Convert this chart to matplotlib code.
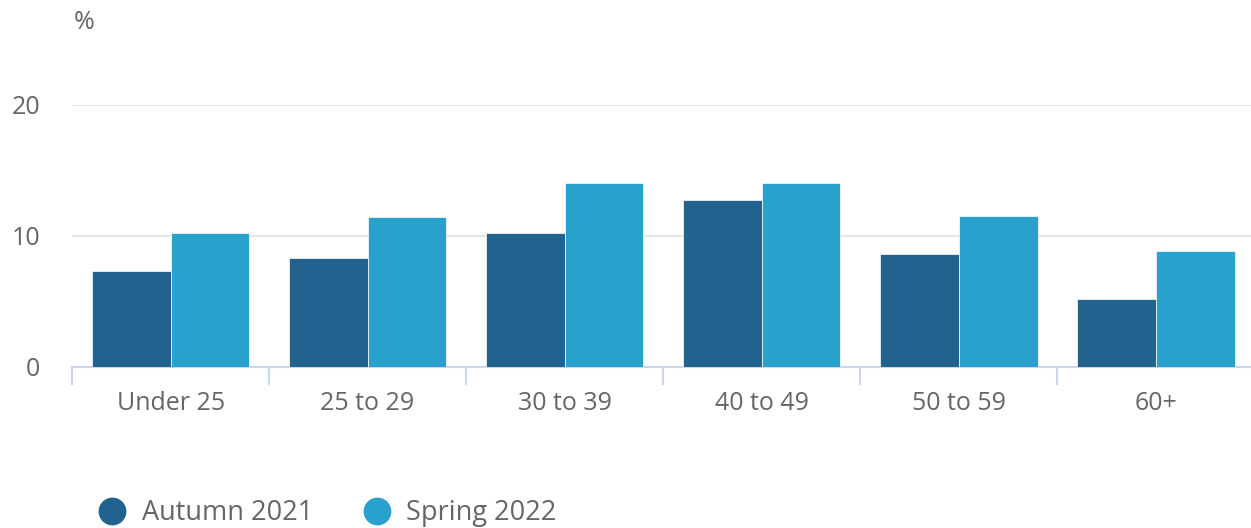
import numpy as np
import matplotlib.pyplot as plt
from matplotlib.lines import Line2D

plt.rcParams['font.family'] = ['Open Sans', 'DejaVu Sans']

# data
categories = ['Under 25', '25 to 29', '30 to 39', '40 to 49', '50 to 59', '60+']
autumn_2021 = [7.3, 8.3, 10.2, 12.7, 8.6, 5.2]
spring_2022 = [10.2, 11.4, 14.0, 14.0, 11.5, 8.8]
series_names = ['Autumn 2021', 'Spring 2022']

dark = '#22628f'
light = '#28a1cc'
grey = '#666666'

fig = plt.figure(figsize=(12.51, 5.28), dpi=100)
ax = fig.add_axes([0.0576, 0.305, 0.945, 0.497])

x = np.arange(len(categories))
w = 0.4
ax.bar(x - w / 2, autumn_2021, w, color=dark, edgecolor='white', linewidth=0.5, zorder=3)
ax.bar(x + w / 2, spring_2022, w, color=light, edgecolor='white', linewidth=0.5, zorder=3)

ax.set_xlim(-0.5, len(categories) - 0.5)
ax.set_ylim(0, 20)
ax.set_yticks([0, 10, 20])
ax.yaxis.grid(True, color='#e6e6e6', linewidth=1.5, zorder=0)
ax.tick_params(axis='y', length=0, labelsize=18, labelcolor=grey, pad=23)

# category boundary ticks
ax.set_xticks(x)
ax.set_xticklabels(categories)
ax.set_xticks(np.arange(-0.5, len(categories), 1), minor=True)
ax.tick_params(axis='x', which='major', length=0, labelsize=18, labelcolor=grey, pad=17)
ax.tick_params(axis='x', which='minor', length=13, width=1.5, color='#ccd6eb')

for s in ['top', 'right', 'left']:
    ax.spines[s].set_visible(False)
ax.spines['bottom'].set_color('#ccd6eb')
ax.spines['bottom'].set_linewidth(1.5)

fig.text(0.059, 0.958, '%', fontsize=18, color=grey, ha='left', va='center')

handles = [Line2D([], [], marker='o', linestyle='', markersize=19, color=c) for c in [dark, light]]
fig.legend(handles, series_names, loc='lower left', bbox_to_anchor=(0.057, -0.045), ncol=2,
           frameon=False, fontsize=19.5, labelcolor=grey, handletextpad=0.5,
           columnspacing=1.75, handlelength=1.2)

fig.savefig('out.png', dpi=100)
